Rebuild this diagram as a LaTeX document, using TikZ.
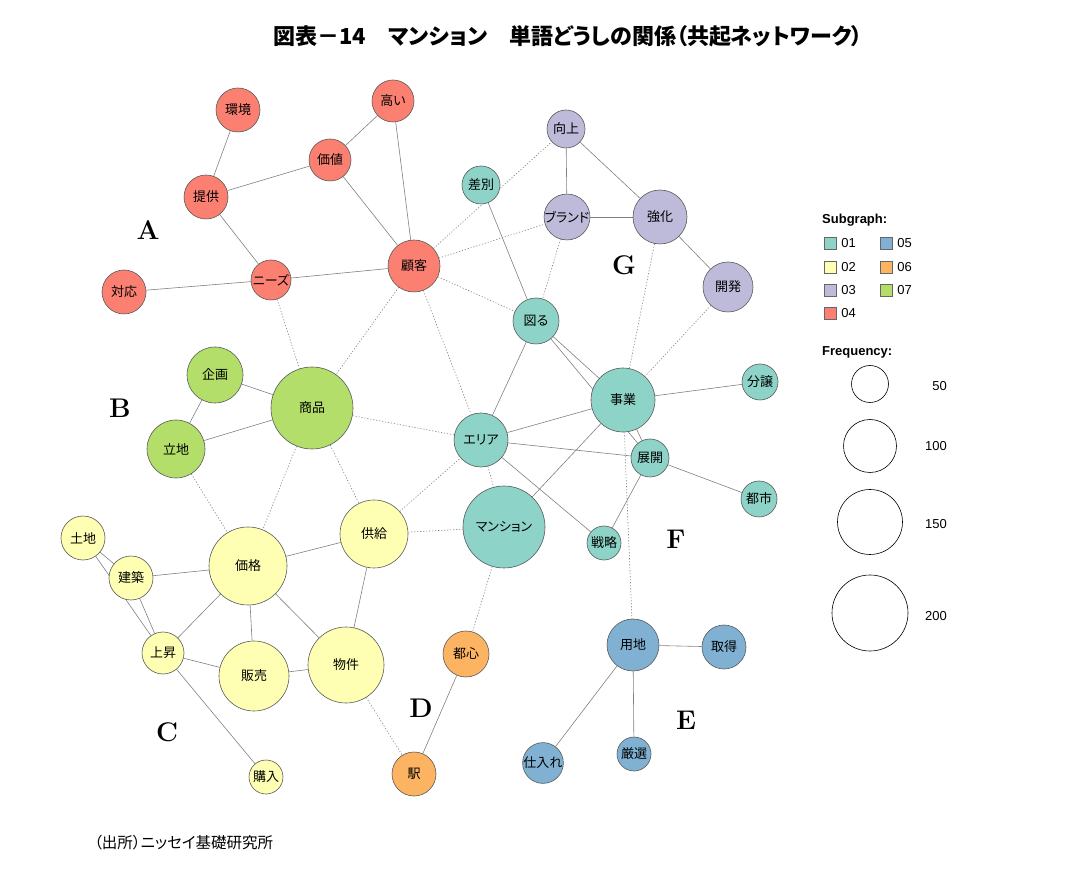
\documentclass[tikz,border=0pt]{standalone}
\usepackage{fontspec}
\newfontfamily\jpfont{Noto Sans CJK JP}[RawFeature=+palt]
\newfontfamily\legfont{Liberation Sans}
\usepackage{tikz}
\usetikzlibrary{positioning, backgrounds}
\usepackage{xcolor}
\definecolor{sg01}{HTML}{8DD3C7}
\definecolor{sg02}{HTML}{FFFFB3}
\definecolor{sg03}{HTML}{BEBADA}
\definecolor{sg04}{HTML}{FB8072}
\definecolor{sg05}{HTML}{80B1D3}
\definecolor{sg06}{HTML}{FDB462}
\definecolor{sg07}{HTML}{B3DE69}
\tikzset{
  word/.style={circle, draw=black!65, line width=0.6pt, inner sep=0pt,
    font=\jpfont\fontsize{13}{13}\selectfont},
  co/.style={draw=black!50, line width=0.6pt},
  weak/.style={co, dash pattern=on 1.2pt off 1.8pt},
  grp/.style={font=\bfseries\fontsize{27}{27}\selectfont},
  keybox/.style={draw=black!60, line width=0.5pt, minimum size=12pt, inner sep=0pt},
  keytxt/.style={anchor=west, inner sep=0pt, font=\legfont\fontsize{13}{13}\selectfont},
  sizering/.style={circle, draw=black, line width=0.6pt, inner sep=0pt}
}

\begin{document}
\begin{tikzpicture}[x=1pt, y=-1pt]
  \useasboundingbox (0,0) rectangle (1080,874);
  \node[font=\jpfont\bfseries\fontsize{22}{22}\selectfont] (title) at (568,36)
    {図表－14　マンション　単語どうしの関係（共起ネットワーク）};

  % subgraph 04
  \node[word, fill=sg04, minimum size=44] (kankyo) at (238,110) {環境};
  \node[word, fill=sg04, minimum size=42] (takai) at (393,101) {高い};
  \node[word, fill=sg04, minimum size=42] (kachi) at (330,160) {価値};
  \node[word, fill=sg04, minimum size=44] (teikyo) at (206,197) {提供};
  \node[word, fill=sg04, minimum size=40] (needs) at (271,280) {ニーズ};
  \node[word, fill=sg04, minimum size=44] (taio) at (124,292) {対応};
  \node[word, fill=sg04, minimum size=52] (kokyaku) at (414,266) {顧客};
  % subgraph 03
  \node[word, fill=sg03, minimum size=38] (kojo) at (566,129) {向上};
  \node[word, fill=sg03, minimum size=44] (brand) at (567,217) {ブランド};
  \node[word, fill=sg03, minimum size=54] (kyoka) at (660,217) {強化};
  \node[word, fill=sg03, minimum size=50] (kaihatsu) at (728,287) {開発};
  % subgraph 01
  \node[word, fill=sg01, minimum size=38] (sabetsu) at (481,185) {差別};
  \node[word, fill=sg01, minimum size=46] (hakaru) at (536,321) {図る};
  \node[word, fill=sg01, minimum size=64] (jigyo) at (623,400) {事業};
  \node[word, fill=sg01, minimum size=36] (bunjo) at (760,382) {分譲};
  \node[word, fill=sg01, minimum size=54] (area) at (481,440) {エリア};
  \node[word, fill=sg01, minimum size=38] (tenkai) at (650,458) {展開};
  \node[word, fill=sg01, minimum size=36] (toshi) at (759,499) {都市};
  \node[word, fill=sg01, minimum size=82] (mansion) at (504,527) {マンション};
  \node[word, fill=sg01, minimum size=34] (senryaku) at (604,543) {戦略};
  % subgraph 07
  \node[word, fill=sg07, minimum size=56] (kikaku) at (215,375) {企画};
  \node[word, fill=sg07, minimum size=82] (shohin) at (312,408) {商品};
  \node[word, fill=sg07, minimum size=58] (ritchi) at (176,449) {立地};
  % subgraph 02
  \node[word, fill=sg02, minimum size=44] (tochi) at (83,538) {土地};
  \node[word, fill=sg02, minimum size=44] (kenchiku) at (131,578) {建築};
  \node[word, fill=sg02, minimum size=78] (kakaku) at (248,566) {価格};
  \node[word, fill=sg02, minimum size=68] (kyokyu) at (374,534) {供給};
  \node[word, fill=sg02, minimum size=42] (josho) at (163,653) {上昇};
  \node[word, fill=sg02, minimum size=70] (hanbai) at (254,676) {販売};
  \node[word, fill=sg02, minimum size=76] (bukken) at (346,665) {物件};
  \node[word, fill=sg02, minimum size=34] (konyu) at (266,777) {購入};
  % subgraph 06
  \node[word, fill=sg06, minimum size=46] (toshin) at (466,654) {都心};
  \node[word, fill=sg06, minimum size=44] (eki) at (414,774) {駅};
  % subgraph 05
  \node[word, fill=sg05, minimum size=52] (yochi) at (633,645) {用地};
  \node[word, fill=sg05, minimum size=44] (shutoku) at (724,647) {取得};
  \node[word, fill=sg05, minimum size=36] (shiire) at (543,763) {仕入れ};
  \node[word, fill=sg05, minimum size=34] (gensen) at (634,754) {厳選};

  % group letters
  \node[grp] (gA) at (148,230) {A};
  \node[grp] (gB) at (120,408) {B};
  \node[grp] (gC) at (167,732) {C};
  \node[grp] (gD) at (421,708) {D};
  \node[grp] (gE) at (686,720) {E};
  \node[grp] (gF) at (676,539) {F};
  \node[grp] (gG) at (624,265) {G};

  \begin{scope}[on background layer]
    \foreach \a/\b in {kankyo/teikyo, teikyo/kachi, kachi/takai, kachi/kokyaku,
        takai/kokyaku, teikyo/needs, needs/taio, needs/kokyaku,
        kojo/brand, kojo/kyoka, brand/kyoka, kyoka/kaihatsu,
        sabetsu/hakaru, hakaru/area, hakaru/jigyo, hakaru/tenkai,
        jigyo/bunjo, area/jigyo, area/tenkai, area/senryaku, jigyo/tenkai,
        tenkai/toshi, tenkai/senryaku, jigyo/mansion,
        kikaku/shohin, kikaku/ritchi, ritchi/shohin,
        tochi/kenchiku, tochi/josho, kenchiku/josho, kenchiku/kakaku,
        kakaku/kyokyu, kakaku/josho, kakaku/hanbai, kakaku/bukken,
        josho/hanbai, hanbai/bukken, kyokyu/bukken, josho/konyu,
        toshin/eki, yochi/shutoku, yochi/shiire, yochi/gensen}
      \draw[co] (\a) -- (\b);
    \foreach \a/\b in {needs/shohin, kokyaku/shohin, kokyaku/kojo,
        kokyaku/brand, kokyaku/hakaru, kokyaku/area, brand/hakaru,
        kyoka/jigyo, kaihatsu/jigyo, shohin/area, shohin/kakaku,
        shohin/kyokyu, ritchi/kakaku, kyokyu/area, kyokyu/mansion,
        area/mansion, mansion/toshin, bukken/eki, jigyo/yochi}
      \draw[weak] (\a) -- (\b);
  \end{scope}

  % legend
  \node[anchor=west, inner sep=0pt, font=\legfont\bfseries\fontsize{13}{13}\selectfont]
    (subhead) at (822,220) {Subgraph:};
  \node[keybox, fill=sg01] (k01) at (830,243) {};
  \node[keybox, fill=sg02] (k02) at (830,267) {};
  \node[keybox, fill=sg03] (k03) at (830,290) {};
  \node[keybox, fill=sg04] (k04) at (830,313) {};
  \node[keybox, fill=sg05] (k05) at (886,243) {};
  \node[keybox, fill=sg06] (k06) at (886,267) {};
  \node[keybox, fill=sg07] (k07) at (886,290) {};
  \node[keytxt, right=5pt of k01] {01};
  \node[keytxt, right=5pt of k02] {02};
  \node[keytxt, right=5pt of k03] {03};
  \node[keytxt, right=5pt of k04] {04};
  \node[keytxt, right=5pt of k05] {05};
  \node[keytxt, right=5pt of k06] {06};
  \node[keytxt, right=5pt of k07] {07};
  \node[anchor=west, inner sep=0pt, font=\legfont\bfseries\fontsize{13}{13}\selectfont]
    (freqhead) at (822,352) {Frequency:};
  \node[sizering, minimum size=37] (f50) at (870,384) {};
  \node[sizering, minimum size=53] (f100) at (870,446) {};
  \node[sizering, minimum size=65] (f150) at (870,522) {};
  \node[sizering, minimum size=76] (f200) at (870,613) {};
  \node[keytxt, anchor=east] at (947,386) {50};
  \node[keytxt, anchor=east] at (947,446) {100};
  \node[keytxt, anchor=east] at (947,524) {150};
  \node[keytxt, anchor=east] at (947,616) {200};

  \node[anchor=west, inner sep=0pt, font=\jpfont\fontsize{15.5}{15.5}\selectfont]
    (source) at (94,843) {（出所）ニッセイ基礎研究所};
\end{tikzpicture}
\end{document}
